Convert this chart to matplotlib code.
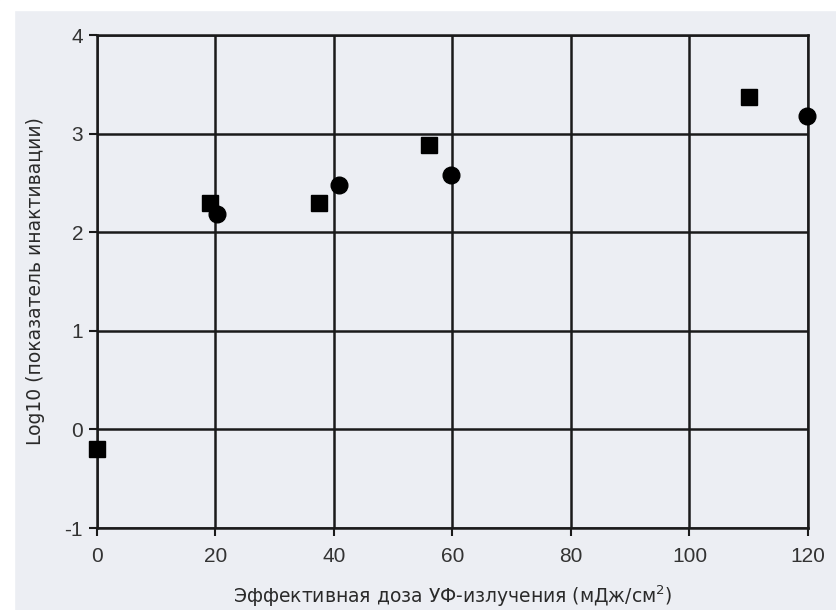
import matplotlib.pyplot as plt
from matplotlib.patches import Rectangle

# Inactivation data
square_dose = [0, 19, 37.5, 56, 110]
square_log = [-0.2, 2.3, 2.3, 2.88, 3.37]
circle_dose = [20.3, 40.8, 59.8, 119.8]
circle_log = [2.18, 2.48, 2.58, 3.18]

x_ticks = [0, 20, 40, 60, 80, 100, 120]
y_ticks = [-1, 0, 1, 2, 3, 4]
y_tick_labels = ["-1", "0", "1", "2", "3", "4"]

BG = "#eceef3"

fig = plt.figure(figsize=(8.36, 6.10), dpi=100, facecolor=BG)
# white margin strips of the scan
fig.patches.append(Rectangle((0, 1 - 10 / 610), 1, 10 / 610, transform=fig.transFigure,
                             color="white", zorder=0))
fig.patches.append(Rectangle((0, 0), 14 / 836, 1, transform=fig.transFigure,
                             color="white", zorder=0))

ax = fig.add_axes([0.116, 0.1344, 0.8505, 0.8082])
ax.set_facecolor(BG)

ax.plot(square_dose, square_log, "s", color="black", markersize=11.5, clip_on=False, zorder=5)
ax.plot(circle_dose, circle_log, "o", color="black", markersize=12, clip_on=False, zorder=5)

ax.set_xlim(0, 120)
ax.set_ylim(-1, 4)
ax.set_xticks(x_ticks)
ax.set_yticks(y_ticks)
ax.set_yticklabels(y_tick_labels)
ax.grid(True, color="#1a1a1a", linewidth=1.8)
ax.set_axisbelow(True)
for s in ax.spines.values():
    s.set_color("#1a1a1a")
    s.set_linewidth(1.8)

ax.tick_params(direction="out", length=6, width=1.5, colors="#1a1a1a",
               labelsize=15, labelcolor="#333333", pad=4)
ax.tick_params(axis="x", pad=8)
for lab in ax.get_xticklabels() + ax.get_yticklabels():
    lab.set_family("Liberation Sans")

ax.set_xlabel("Эффективная доза УФ-излучения (мДж/см$^2$)", fontsize=13.5, color="#2a2a2a",
              labelpad=12)
ax.set_ylabel("Log10 (показатель инактивации)", fontsize=13.5, color="#2a2a2a", labelpad=14)

fig.savefig("out.png", dpi=100, facecolor=BG)
